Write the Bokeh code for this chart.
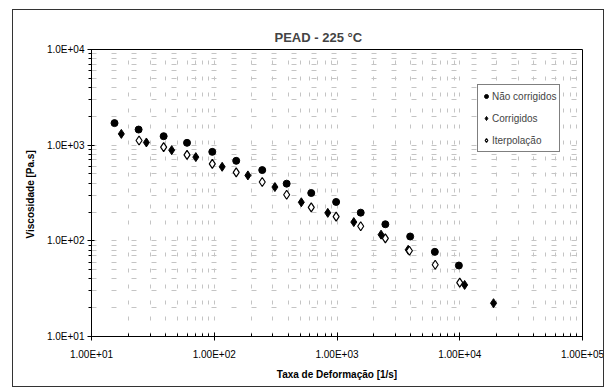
from bokeh.plotting import figure
from bokeh.models import FixedTicker, Legend, LegendItem, InlineStyleSheet
from bokeh.embed import file_html
from bokeh.resources import INLINE

# ---- data ----
x_nao = [15.4, 24.2, 38.7, 60, 96.4, 151, 246, 389, 617, 984, 1560, 2477, 3946, 6266, 9840]
y_nao = [1700, 1456, 1241, 1058, 851, 686, 549, 396, 316, 255, 197, 149, 111, 76.7, 55.2]

x_cor = [17.5, 28, 45, 70.8, 116, 188, 312, 512, 841, 1370, 2285, 3800, 10960, 18840]
y_cor = [1312, 1067, 887, 750, 594, 483, 365, 253, 196, 157, 116, 80.6, 34.6, 22.3]

x_int = [24.4, 38.7, 60, 96.4, 151, 246, 389, 617, 984, 1560, 2477, 3890, 6310, 10000]
y_int = [1119, 953, 792, 638, 520, 412, 303, 224, 179, 142, 106, 78.7, 56.2, 36.5]

x_ticks = [10, 100, 1000, 10000, 100000]
x_tick_labels = ["1.00E+01", "1.00E+02", "1.00E+03", "1.00E+04", "1.00E+05"]
y_ticks = [10, 100, 1000, 10000]
y_tick_labels = ["1.0E+01", "1.0E+02", "1.0E+03", "1.0E+04"]

series_names = ["Não corrigidos", "Corrigidos", "Iterpolação"]

FONT = "Liberation Sans"

p = figure(width=606, height=390, x_axis_type="log", y_axis_type="log",
           x_range=(10, 100000), y_range=(10, 10000),
           output_backend="svg", toolbar_location=None,
           min_border_left=91, min_border_right=24, min_border_top=49, min_border_bottom=54)

p.title.text = "PEAD - 225 °C"
p.title.text_font = FONT
p.title.text_font_size = "13px"
p.title.text_font_style = "bold"
p.title.align = "left"
p.title.offset = 183
p.title.standoff = 10

def minor(ticks):
    out = []
    for t in ticks[:-1]:
        for m in range(2, 10):
            out.append(t * m)
    return out

p.xaxis.ticker = FixedTicker(ticks=x_ticks, minor_ticks=minor(x_ticks))
p.yaxis.ticker = FixedTicker(ticks=y_ticks, minor_ticks=minor(y_ticks))
p.xaxis.major_label_overrides = {t: l for t, l in zip(x_ticks, x_tick_labels)}
p.yaxis.major_label_overrides = {t: l for t, l in zip(y_ticks, y_tick_labels)}

for ax in (p.xaxis[0], p.yaxis[0]):
    ax.major_label_text_font = FONT
    ax.major_label_text_font_size = "10px"
    ax.major_label_text_color = "black"
    ax.axis_label_text_font = FONT
    ax.axis_label_text_font_size = "10px"
    ax.axis_label_text_font_style = "bold"
    ax.axis_label_text_color = "black"
    ax.axis_line_color = "black"
    ax.major_tick_line_color = "black"
    ax.minor_tick_line_color = "black"

p.xaxis.axis_label = "Taxa de Deformação [1/s]"
p.yaxis.axis_label = "Viscosidade  [Pa.s]"
p.xaxis.major_tick_in = 4
p.xaxis.major_tick_out = 4
p.xaxis.minor_tick_in = 3
p.xaxis.minor_tick_out = 0
p.yaxis.major_tick_in = 3
p.yaxis.major_tick_out = 4
p.yaxis.minor_tick_in = 0
p.yaxis.minor_tick_out = 3
p.xaxis.major_label_standoff = 8
p.yaxis.major_label_standoff = 3
p.xaxis.axis_label_standoff = 6
p.yaxis.axis_label_standoff = 8

p.xgrid.grid_line_color = "#c4c4c4"
p.xgrid.grid_line_dash = "4 12"
p.xgrid.minor_grid_line_color = "#c4c4c4"
p.xgrid.minor_grid_line_dash = "4 12"
p.ygrid.grid_line_color = "#c4c4c4"
p.ygrid.grid_line_dash = "5 15"
p.ygrid.minor_grid_line_color = "#c4c4c4"
p.ygrid.minor_grid_line_dash = "5 15"

p.outline_line_color = "black"
p.outline_line_width = 1
p.background_fill_color = "white"
p.border_fill_color = "white"

r1 = p.scatter(x_nao, y_nao, marker="circle", size=7, fill_color="black", line_color="black")
r2 = p.scatter(x_cor, y_cor, marker="diamond", size=9, fill_color="black", line_color="black")
r3 = p.scatter(x_int, y_int, marker="diamond", size=9, fill_color="white", line_color="black", line_width=1.2)

legend = Legend(items=[LegendItem(label=series_names[0], renderers=[r1]),
                       LegendItem(label=series_names[1], renderers=[r2]),
                       LegendItem(label=series_names[2], renderers=[r3])],
                location=(386, 184))
legend.label_text_font = FONT
legend.label_text_font_size = "10px"
legend.label_height = 16
legend.glyph_height = 14
legend.glyph_width = 10
legend.spacing = 6
legend.padding = 3
legend.margin = 0
legend.label_standoff = 1
legend.border_line_color = "black"
legend.border_line_width = 1
legend.background_fill_alpha = 1
p.add_layout(legend)

p.stylesheets = [InlineStyleSheet(css=""":host { position: relative; }
:host::after { content: ''; position: absolute; left: 12px; top: 9px; width: 592px; height: 378px;
  border: 1.5px solid #333; box-sizing: border-box; pointer-events: none; }""")]

open("out.html", "w").write(file_html(p, INLINE))
